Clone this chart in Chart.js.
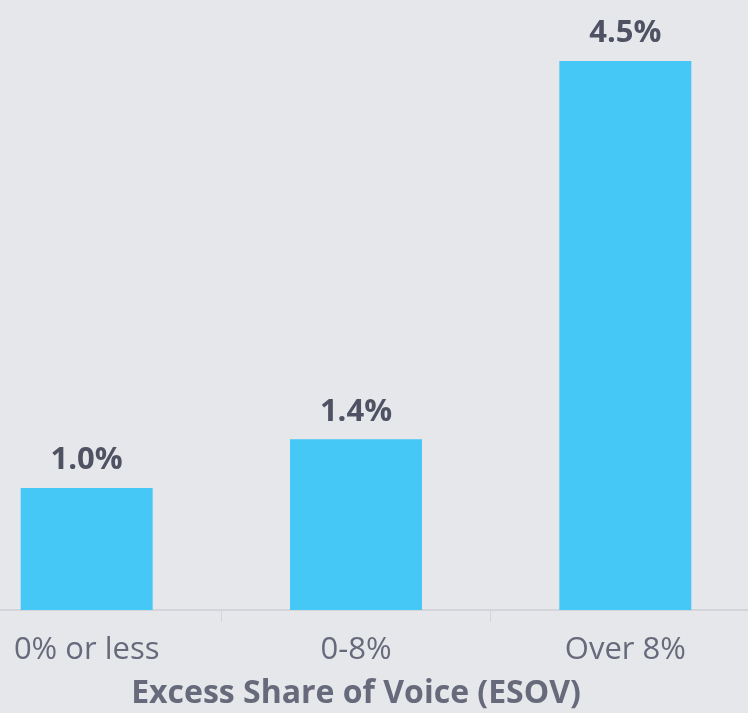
<!DOCTYPE html>
<html>
<head>
<meta charset="utf-8">
<script src="https://cdn.jsdelivr.net/npm/chart.js@4/dist/chart.umd.min.js"></script>
<style>
  html, body { margin: 0; padding: 0; background: #e6e7eb; overflow: hidden; }
  .wrap { position: relative; width: 748px; height: 713px; overflow: hidden; }
  .wrap .box { position: absolute; left: -48px; top: 0; width: 808px; height: 713px; }
</style>
</head>
<body>
<div class="wrap"><div class="box"><canvas id="chart" width="808" height="713"></canvas></div></div>
<script>
const categories = ["0% or less", "0-8%", "Over 8%"];
const values = [1.0, 1.4, 4.5];
const valueLabels = ["1.0%", "1.4%", "4.5%"];
const axisTitle = "Excess Share of Voice (ESOV)";

const FONT = "'Open Sans', 'Noto Sans', sans-serif";

// labels above bars, no datalabels plugin available
const barLabels = {
  id: "barLabels",
  afterDatasetsDraw(chart) {
    const { ctx } = chart;
    const meta = chart.getDatasetMeta(0);
    ctx.save();
    ctx.font = "bold 31px " + FONT;
    ctx.fillStyle = "#4f5263";
    ctx.textAlign = "center";
    ctx.textBaseline = "bottom";
    meta.data.forEach((bar, i) => {
      ctx.fillText(valueLabels[i], bar.x, bar.y - 12);
    });
    ctx.restore();
  }
};

new Chart(document.getElementById("chart").getContext("2d"), {
  type: "bar",
  data: {
    labels: categories,
    datasets: [{
      data: values,
      backgroundColor: "#45c8f5",
      borderWidth: 0,
      categoryPercentage: 1,
      barPercentage: 0.49
    }]
  },
  options: {
    responsive: false,
    animation: false,
    layout: { padding: 0 },
    plugins: { legend: { display: false }, tooltip: { enabled: false } },
    scales: {
      y: { display: false, min: 0, max: 5 },
      x: {
        afterFit(scale) { scale.height = 103; },
        grid: { drawOnChartArea: false, drawTicks: true, tickLength: 12, color: "#d3d5da", offset: true },
        border: { display: true, color: "#d3d5da", width: 2 },
        ticks: { color: "#676a7b", padding: 10, font: { family: FONT, size: 31, lineHeight: 1.2 } },
        title: {
          display: true,
          text: axisTitle,
          color: "#666a7a",
          font: { family: FONT, size: 32, weight: "bold", lineHeight: 1.2 },
          padding: { top: 8, bottom: 0 }
        }
      }
    }
  },
  plugins: [barLabels]
});
</script>
</body>
</html>
